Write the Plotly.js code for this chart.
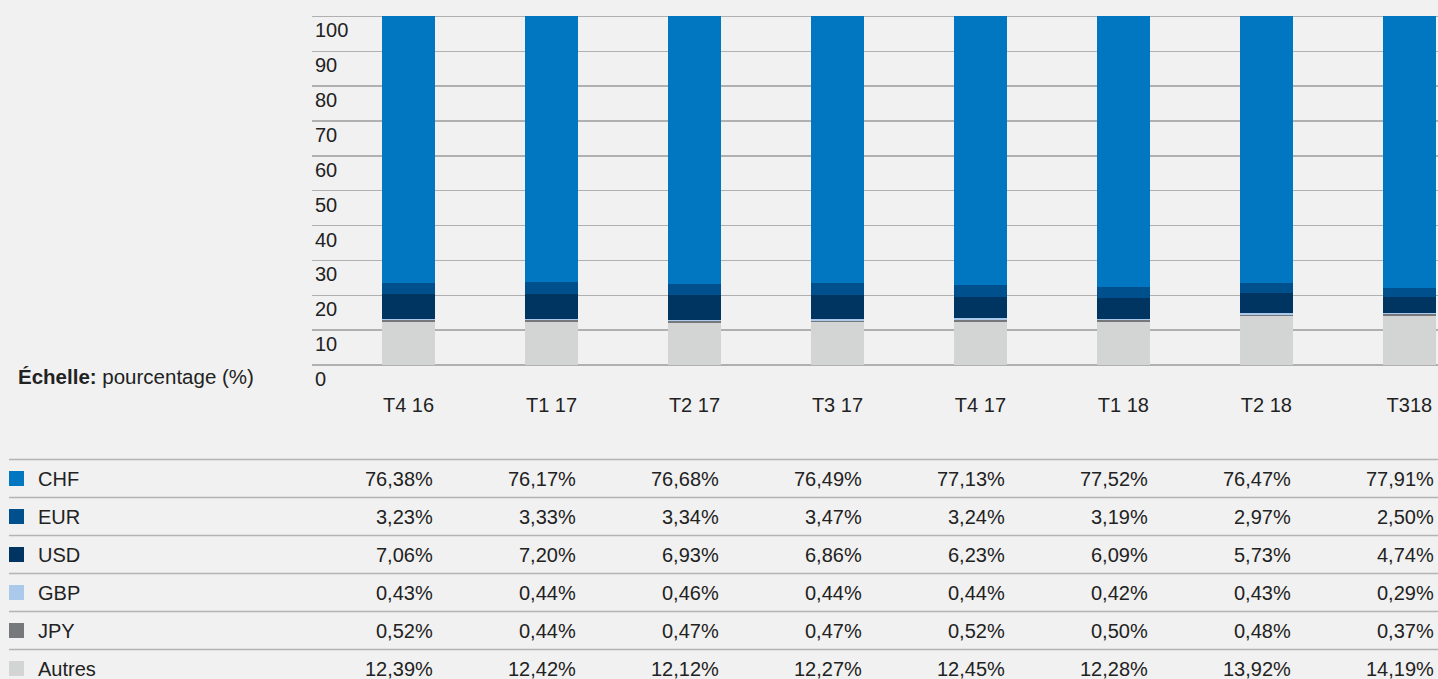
<!DOCTYPE html>
<html>
<head>
<meta charset="utf-8">
<script src="https://cdn.plot.ly/plotly-3.0.1.min.js"></script>
<style>
  html, body { margin: 0; padding: 0; background: #f1f1f1; }
  #chart { width: 1438px; height: 679px; }
</style>
</head>
<body>
<div id="chart"></div>
<script>
// ---- Data ----
const quarters = ["T4 16", "T1 17", "T2 17", "T3 17", "T4 17", "T1 18", "T2 18", "T318"];
const chf    = [76.38, 76.17, 76.68, 76.49, 77.13, 77.52, 76.47, 77.91];
const eur    = [3.23, 3.33, 3.34, 3.47, 3.24, 3.19, 2.97, 2.50];
const usd    = [7.06, 7.20, 6.93, 6.86, 6.23, 6.09, 5.73, 4.74];
const gbp    = [0.43, 0.44, 0.46, 0.44, 0.44, 0.42, 0.43, 0.29];
const jpy    = [0.52, 0.44, 0.47, 0.47, 0.52, 0.50, 0.48, 0.37];
const autres = [12.39, 12.42, 12.12, 12.27, 12.45, 12.28, 13.92, 14.19];
const yTicks = [0, 10, 20, 30, 40, 50, 60, 70, 80, 90, 100];
const scaleLabelBold = "Échelle:";
const scaleLabelRest = " pourcentage (%)";

// Series, table order (top to bottom) and colours
const series = [
  { name: "CHF",    values: chf,    color: "#0077c0" },
  { name: "EUR",    values: eur,    color: "#00508e" },
  { name: "USD",    values: usd,    color: "#003562" },
  { name: "GBP",    values: gbp,    color: "#abc9ea" },
  { name: "JPY",    values: jpy,    color: "#77787b" },
  { name: "Autres", values: autres, color: "#d3d4d4" }
];

// ---- Layout geometry (pixels) ----
const W = 1438, H = 679;
const L = 312, T = 13, B = 314;
const plotW = W - L, plotH = H - T - B;
const fx = px => (px - L) / plotW;
const fy = py => (H - B - py) / plotH;

const FONT = "Liberation Sans, Arial, sans-serif";
const TXT = "#222222";

// stack bottom-up: Autres first
const traces = series.slice().reverse().map(s => ({
  type: "bar",
  name: s.name,
  x: quarters,
  y: s.values,
  marker: { color: s.color, line: { width: 0 } },
  width: 0.37,
  hoverinfo: "name+y"
}));

const shapes = [];
const annotations = [];

// scale label
annotations.push({
  xref: "paper", yref: "paper",
  x: fx(16), y: fy(376), xanchor: "left", yanchor: "middle",
  showarrow: false,
  text: "<b>" + scaleLabelBold + "</b>" + scaleLabelRest,
  font: { family: FONT, size: 20.5, color: TXT }
});

// table
const rowH = 38;
const firstLine = 459.5;
series.forEach((s, r) => {
  const lineY = firstLine + r * rowH;
  const cy = lineY + rowH / 2;
  shapes.push({
    type: "line", xref: "paper", yref: "paper",
    x0: fx(9), x1: fx(W), y0: fy(lineY), y1: fy(lineY),
    line: { color: "#b4b4b4", width: 1.5 }
  });
  shapes.push({
    type: "rect", xref: "paper", yref: "paper",
    x0: fx(9), x1: fx(24), y0: fy(cy - 7.5), y1: fy(cy + 7.5),
    fillcolor: s.color, line: { width: 0 }
  });
  annotations.push({
    xref: "paper", yref: "paper",
    x: fx(36), y: fy(cy), xanchor: "left", yanchor: "middle",
    showarrow: false, text: s.name,
    font: { family: FONT, size: 20, color: TXT }
  });
  s.values.forEach((v, i) => {
    annotations.push({
      xref: "x", yref: "paper",
      x: i + 0.185, y: fy(cy), xanchor: "right", yanchor: "middle",
      showarrow: false,
      text: v.toFixed(2).replace(".", ",") + "%",
      font: { family: FONT, size: 20, color: TXT }
    });
  });
});

const layout = {
  width: W, height: H,
  margin: { l: L, r: 0, t: T, b: B, pad: 0 },
  paper_bgcolor: "#f1f1f1",
  plot_bgcolor: "#f1f1f1",
  barmode: "stack",
  showlegend: false,
  font: { family: FONT, size: 20, color: TXT },
  xaxis: {
    type: "category",
    range: [-0.675, 7.2],
    showgrid: false, zeroline: false, showline: false,
    ticks: "", ticklabelstandoff: 26,
    tickfont: { family: FONT, size: 20, color: TXT },
    fixedrange: true
  },
  yaxis: {
    range: [0, 101],
    tickvals: yTicks,
    ticktext: yTicks.map(String),
    showgrid: true, gridcolor: "#b0b0b0", gridwidth: 1.5,
    zeroline: true, zerolinecolor: "#b0b0b0", zerolinewidth: 1.5,
    showline: false, ticks: "",
    ticklabelposition: "inside",
    ticklabeloverflow: "allow",
    ticklabelshift: 14,
    tickfont: { family: FONT, size: 20, color: TXT },
    fixedrange: true
  },
  shapes: shapes,
  annotations: annotations
};

Plotly.newPlot("chart", traces, layout, { displayModeBar: false, staticPlot: true });
</script>
</body>
</html>
